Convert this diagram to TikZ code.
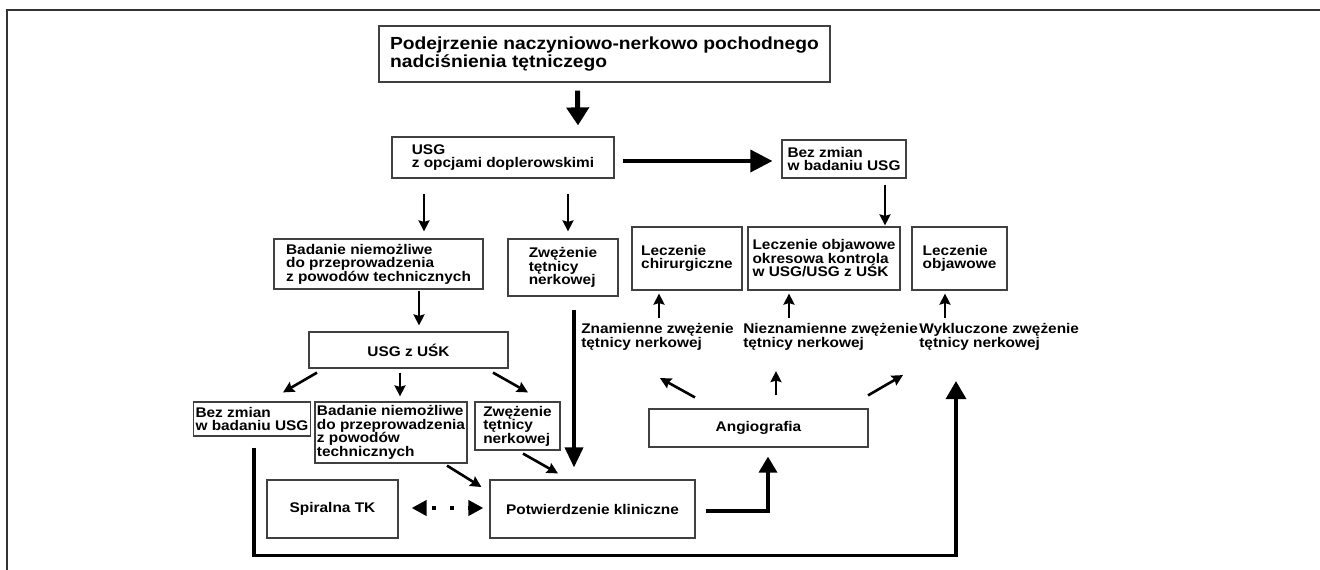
\documentclass[tikz,border=0pt]{standalone}
\usepackage{fontspec}
\setmainfont{Liberation Sans}[FakeStretch=1.1]
\usepackage{tikz}
\usetikzlibrary{arrows,arrows.meta,positioning,calc}

\begin{document}
\begin{tikzpicture}[->,>={Stealth[length=11pt,width=11pt,inset=1.5pt]},
x=1pt, y=-1pt, line width=2.6pt,
font=\bfseries\fontsize{14pt}{13.5pt}\selectfont]
\tikzstyle{box}=[rectangle, draw=black!75, line width=1.2pt, align=left, inner sep=2pt, text=black]
\tikzstyle{note}=[align=left, inner sep=0pt, anchor=west]
\tikzstyle{big}=[-{Triangle[length=18pt,width=20pt]}, line width=4pt]

\useasboundingbox (0,0) rectangle (1320,570);
% frame
\draw[-, line width=1.6pt, black!80] (7,570) -- (7,10) -- (1320,10);

\node[box, minimum width=451pt, minimum height=56pt, inner xsep=5pt,
font=\bfseries\fontsize{17.5pt}{18pt}\selectfont]
(podejrz) at (604.5,54) {Podejrzenie naczyniowo-nerkowo pochodnego\\nadciśnienia tętniczego};

\node[box, minimum width=222pt, minimum height=41pt] (usg) at (503,157.5) {USG\\z opcjami doplerowskimi};
\node[box, minimum width=124pt, minimum height=38pt] (bezzm1) at (844,159) {Bez zmian\\w badaniu USG};

%second row
\node[box, minimum width=209pt, minimum height=50pt] (badnm1) at (378.5,264) {Badanie niemożliwe\\do przeprowadzenia\\z powodów technicznych};
\node[box, minimum width=110pt, minimum height=57pt] (zwez1) at (563,267.5) {Zwężenie\\tętnicy\\nerkowej};
\node[box, minimum width=110pt, minimum height=63pt] (lchir) at (687,258.5) {Leczenie\\chirurgiczne};
\node[box, minimum width=152pt, minimum height=63pt] (lokres) at (824,258.5) {Leczenie objawowe\\okresowa kontrola\\w USG/USG z UŚK};
\node[box, minimum width=95pt, minimum height=63pt] (lobjaw) at (959.5,258.5) {Leczenie\\objawowe};

\node[note] (znam) at (580,337) {Znamienne zwężenie\\tętnicy nerkowej};
\node[note] (nieznam) at (742,337) {Nieznamienne zwężenie\\tętnicy nerkowej};
\node[note] (wykl) at (918,337) {Wykluczone zwężenie\\tętnicy nerkowej};

\node[box, minimum width=199pt, minimum height=36pt, align=center] (usguk) at (408.5,350) {USG z UŚK};

%lower row
\node[box, minimum width=116pt, minimum height=34pt] (bezzm2) at (252,419) {Bez zmian\\w badaniu USG};
\node[box, minimum width=152pt, minimum height=61pt] (badnm2) at (391,432.5) {Badanie niemożliwe\\do przeprowadzenia\\z powodów\\technicznych};
\node[box, minimum width=85pt, minimum height=48pt] (zwez2) at (517.5,426) {Zwężenie\\tętnicy\\nerkowej};
\node[box, minimum width=219pt, minimum height=38pt, align=center] (angio) at (758.5,428) {Angiografia};
\node[box, minimum width=131pt, minimum height=58pt, align=center] (spiral) at (332.5,509) {Spiralna TK};
\node[box, minimum width=205pt, minimum height=58pt, align=center] (potw) at (592.5,509) {Potwierdzenie kliniczne};

%main flow
\draw[-{Triangle[length=18pt,width=22pt]}, line width=5pt] ([shift={(-27,8)}]podejrz.south) -- ([shift={(75,-11)}]usg.north);
\draw[-{Triangle[length=22pt,width=22pt]}, line width=3.6pt] ([shift={(8,3.5)}]usg.east) -- ([shift={(-9,2)}]bezzm1.west);
\draw ([shift={(41,6)}]bezzm1.south) -- ([shift={(61,-1)}]lokres.north);
\draw ([shift={(-79,15)}]usg.south) -- ([shift={(45.5,-7)}]badnm1.north);
\draw ([shift={(65,15)}]usg.south) -- ([shift={(5,-7)}]zwez1.north);
\draw ([shift={(40.5,1)}]badnm1.south) -- ([shift={(10.5,-6)}]usguk.north);
\draw[-{Triangle[length=20pt,width=18pt]}, line width=3.6pt] ([shift={(11,13)}]zwez1.south) -- ([shift={(-18.5,-12)}]potw.north);

%from USG z USK
\draw ([shift={(-91.5,4)}]usguk.south) -- ([shift={(31,-9)}]bezzm2.north);
\draw ([shift={(-8.5,4)}]usguk.south) -- ([shift={(9,-5)}]badnm2.north);
\draw ([shift={(84.5,4)}]usguk.south) -- ([shift={(10.5,-9)}]zwez2.north);
\draw ([shift={(56,2)}]badnm2.south) -- ([shift={(-8,-22)}]potw.west);
\draw ([shift={(5.5,3)}]zwez2.south) -- ([shift={(-34.5,-6)}]potw.north);

%spiral TK
\draw[{Triangle[length=15pt,width=15pt]}-{Triangle[length=15pt,width=15pt]}, line width=4pt,
dash pattern=on 4pt off 14pt, dash phase=-6pt] ([shift={(13,-1)}]spiral.east) -- ([shift={(-6,-1)}]potw.west);

%angiografia
\draw[-{Triangle[length=16pt,width=18pt]}, line width=3.4pt] ([shift={(10,2)}]potw.east) -| ([shift={(9.5,9)}]angio.south);
\draw ([shift={(-63.5,-11)}]angio.north) -- ([shift={(80,26.5)}]znam.south west);
\draw ([shift={(17.5,-13)}]angio.north) -- ([shift={(34,19.5)}]nieznam.south west);
\draw ([shift={(109.5,-13)}]angio.north) -- ([shift={(-15,23.5)}]wykl.south west);
\draw ([shift={(79,-4)}]znam.north west) -- ([shift={(-28,3)}]lchir.south);
\draw ([shift={(47,-4)}]nieznam.north west) -- ([shift={(-35,3)}]lokres.south);
\draw ([shift={(27,-4)}]wykl.north west) -- ([shift={(-14.5,3)}]lobjaw.south);

%return line
\draw[-{Triangle[length=18pt,width=20pt]}, line width=3.4pt] ([shift={(2,11)}]bezzm2.south) -- ++(0,108) -| ([shift={(38,29.5)}]wykl.south west);

\end{tikzpicture}
\end{document}
